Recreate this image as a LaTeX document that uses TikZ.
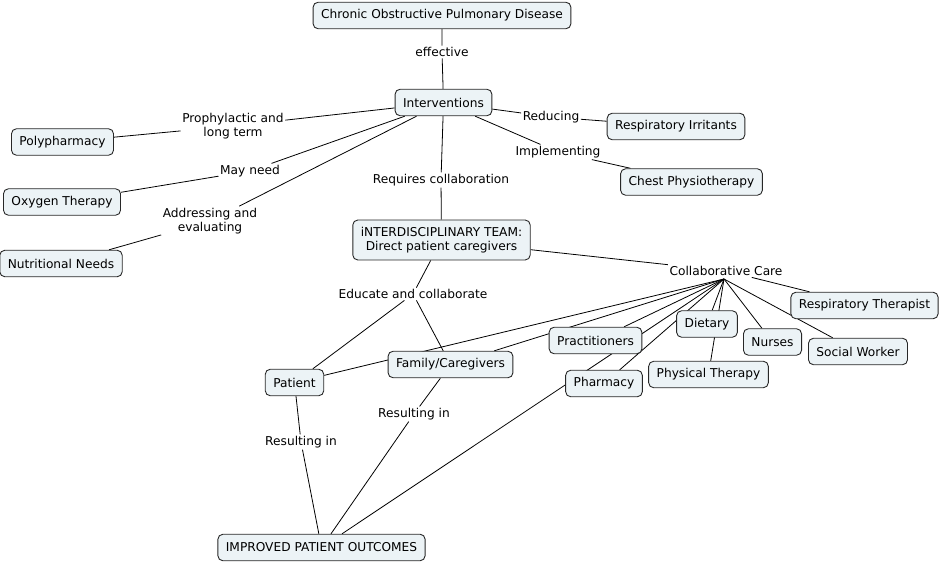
\documentclass[tikz,border=0pt]{standalone}
\usepackage{fontspec}
\setmainfont{DejaVu Sans}
\usetikzlibrary{backgrounds}
\definecolor{boxfill}{RGB}{236,243,246}
\definecolor{boxline}{RGB}{40,40,40}
\begin{document}
\begin{tikzpicture}[x=1bp,y=-1bp,
  every node/.style={font=\fontsize{12.2bp}{14.5bp}\selectfont},
  concept/.style={draw=boxline, fill=boxfill, rounded corners=5bp, line width=0.9bp, inner xsep=8bp, inner ysep=0pt, minimum height=26.5bp, align=center},
  lbl/.style={inner sep=1.5bp, align=center},
  conn/.style={line width=0.8bp, draw=black}]
\useasboundingbox (0,0) rectangle (940,562);
\node[concept] (copd) at (442,15.5) {Chronic Obstructive Pulmonary Disease};
\node[lbl] (eff) at (442,52) {effective};
\node[concept] (int) at (443.5,102.5) {Interventions};
\node[lbl] (pro) at (233,126) {Prophylactic and\\long term};
\node[concept] (poly) at (62.5,142) {Polypharmacy};
\node[lbl] (may) at (250,171) {May need};
\node[concept] (oxy) at (62,202) {Oxygen Therapy};
\node[lbl] (addr) at (210,221) {Addressing and\\evaluating};
\node[concept] (nut) at (61,263.5) {Nutritional Needs};
\node[lbl] (req) at (441,180) {Requires collaboration};
\node[lbl] (red) at (551,117) {Reducing};
\node[concept] (ri) at (676,126.5) {Respiratory Irritants};
\node[lbl] (imp) at (558,152) {Implementing};
\node[concept] (cp) at (691.5,182) {Chest Physiotherapy};
\node[concept, minimum height=40bp] (team) at (441.5,240) {iNTERDISCIPLINARY TEAM:\\Direct patient caregivers};
\node[lbl] (cc) at (726,271) {Collaborative Care};
\node[lbl] (edu) at (413,294) {Educate and collaborate};
\node[concept] (rt) at (864.5,305.5) {Respiratory Therapist};
\node[concept] (diet) at (707,324) {Dietary};
\node[concept] (prac) at (595.5,340.5) {Practitioners};
\node[concept] (nur) at (772.5,342) {Nurses};
\node[concept] (sw) at (858,351.5) {Social Worker};
\node[concept] (fam) at (450.5,364.5) {Family/Caregivers};
\node[concept] (pt) at (708.5,374.5) {Physical Therapy};
\node[concept] (pat) at (294.5,382.5) {Patient};
\node[concept] (pha) at (604,383.5) {Pharmacy};
\node[lbl] (res1) at (414,414) {Resulting in};
\node[lbl] (res2) at (301,442) {Resulting in};
\node[concept] (ipo) at (321.5,547.5) {IMPROVED PATIENT OUTCOMES};
\coordinate (hub) at (724,279);
\begin{scope}[on background layer]
\draw[conn] (copd) -- (eff) -- (int);
\draw[conn] (int) -- (pro) -- (poly);
\draw[conn] (int) -- (may) -- (oxy);
\draw[conn] (int) -- (addr) -- (nut);
\draw[conn] (int) -- (req) -- (team);
\draw[conn] (int) -- (red) -- (ri);
\draw[conn] (int) -- (imp) -- (cp);
\draw[conn] (team) -- (cc);
\draw[conn] (team) -- (edu);
\draw[conn] (edu) -- (pat);
\draw[conn] (edu) -- (fam);
\draw[conn] (pat) -- (res2) -- (ipo);
\draw[conn] (fam) -- (res1) -- (ipo);
\draw[conn] (cc) -- (rt);
\draw[conn] (hub) -- (pat);
\draw[conn] (hub) -- (fam);
\draw[conn] (hub) -- (prac);
\draw[conn] (hub) -- (ipo);
\draw[conn] (hub) -- (pha);
\draw[conn] (hub) -- (diet);
\draw[conn] (hub) -- (pt);
\draw[conn] (hub) -- (nur);
\draw[conn] (hub) -- (sw);
\end{scope}
\end{tikzpicture}
\end{document}
